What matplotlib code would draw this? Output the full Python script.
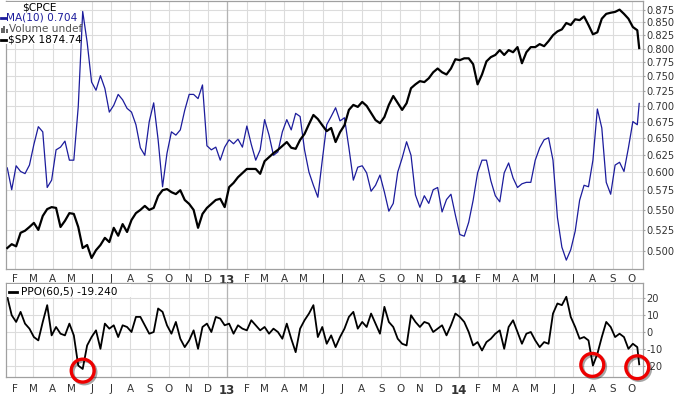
import matplotlib
matplotlib.use("Agg")
import matplotlib.pyplot as plt
import matplotlib.ticker as mticker
import matplotlib.patheffects as pe
from matplotlib.patches import Rectangle
from matplotlib.lines import Line2D
import numpy as np
import pandas as pd

# weekly samples, last point is the final close (2014-10-13)
dates = list(pd.date_range("2012-01-20", "2014-10-10", freq="7D")) + [pd.Timestamp("2014-10-13")]

cpce_ma10 = [0.606, 0.576, 0.609, 0.601, 0.598, 0.610, 0.640, 0.667, 0.659, 0.579,
             0.589, 0.632, 0.636, 0.645, 0.617, 0.617, 0.699, 0.872, 0.812, 0.740,
             0.726, 0.751, 0.729, 0.690, 0.701, 0.719, 0.710, 0.696, 0.690, 0.670,
             0.635, 0.624, 0.675, 0.705, 0.647, 0.580, 0.627, 0.659, 0.654, 0.662,
             0.693, 0.719, 0.719, 0.712, 0.735, 0.638, 0.632, 0.636, 0.617, 0.636,
             0.647, 0.641, 0.648, 0.636, 0.668, 0.640, 0.617, 0.632, 0.678, 0.654,
             0.624, 0.629, 0.659, 0.678, 0.662, 0.688, 0.683, 0.632, 0.600, 0.582,
             0.566, 0.617, 0.670, 0.683, 0.697, 0.676, 0.681, 0.635, 0.589, 0.607,
             0.609, 0.599, 0.574, 0.582, 0.596, 0.573, 0.548, 0.558, 0.600, 0.620,
             0.644, 0.624, 0.569, 0.553, 0.568, 0.558, 0.576, 0.579, 0.547, 0.563,
             0.570, 0.543, 0.519, 0.517, 0.534, 0.562, 0.599, 0.617, 0.617, 0.588,
             0.568, 0.560, 0.599, 0.613, 0.592, 0.579, 0.584, 0.586, 0.586, 0.617,
             0.635, 0.647, 0.650, 0.617, 0.540, 0.504, 0.489, 0.501, 0.523, 0.562,
             0.582, 0.580, 0.617, 0.695, 0.665, 0.586, 0.570, 0.610, 0.614, 0.601,
             0.635, 0.675, 0.670, 0.704]

spx = [1315, 1324, 1319, 1351, 1356, 1365, 1375, 1358, 1392, 1409,
       1414, 1412, 1365, 1380, 1399, 1397, 1365, 1315, 1322, 1292,
       1310, 1322, 1339, 1329, 1363, 1344, 1372, 1353, 1382, 1399,
       1407, 1417, 1407, 1412, 1442, 1457, 1460, 1452, 1447, 1457,
       1432, 1422, 1407, 1363, 1397, 1412, 1422, 1432, 1435, 1414,
       1465, 1476, 1491, 1502, 1513, 1513, 1513, 1500, 1534, 1545,
       1556, 1565, 1576, 1587, 1571, 1568, 1593, 1610, 1638, 1665,
       1653, 1635, 1618, 1627, 1587, 1615, 1635, 1680, 1695, 1689,
       1704, 1692, 1671, 1650, 1641, 1659, 1695, 1722, 1701, 1680,
       1700, 1746, 1758, 1768, 1765, 1777, 1796, 1808, 1796, 1789,
       1808, 1838, 1835, 1841, 1841, 1822, 1758, 1789, 1831, 1845,
       1852, 1868, 1852, 1868, 1861, 1878, 1825, 1861, 1878, 1878,
       1888, 1881, 1898, 1918, 1931, 1938, 1960, 1953, 1973, 1970,
       1983, 1953, 1921, 1928, 1975, 1992, 1996, 1999, 2007, 1992,
       1975, 1946, 1935, 1874.74]

ppo = [21, 10, 6, 12, 5, 2, -3, -5, 6, 16,
       -2, 3, -1, -2, 5, -2, -20, -22, -8, -3,
       1, -10, 5, 2, 4, -3, 4, 3, 0, 9,
       9, 4, -1, 0, 14, 12, 4, -1, 6, -4,
       -9, -5, 1, -10, 3, 5, 0, 9, 8, 4,
       5, -1, 4, 2, 1, 7, 4, 1, 3, -1,
       2, 0, -4, 5, -4, -12, 2, 7, 11, 16,
       -3, 3, -7, -2, -9, -3, 2, 9, 12, 2,
       6, 3, 11, 5, -1, 15, 6, 3, -4, -7,
       -8, 10, 6, 3, 6, 5, 0, 2, 4, -2,
       4, 11, 9, 6, 0, -8, -6, -11, -6, -4,
       -1, 1, -10, 3, 7, 0, -7, -1, 0, -5,
       -9, -6, -7, 11, 17, 16, 21, 9, 3, -4,
       -3, -5, -20, -13, -3, 6, 3, -3, -1, -3,
       -10, -7, -9, -19.24]

# red circles marking the PPO lows
circle_dates = [pd.Timestamp("2012-05-18"), pd.Timestamp("2014-07-31"), pd.Timestamp("2014-10-10")]
circle_vals = [-23, -19.6, -21]

cpce_ticks = [0.500, 0.525, 0.550, 0.575, 0.600, 0.625, 0.650, 0.675, 0.700,
              0.725, 0.750, 0.775, 0.800, 0.825, 0.850, 0.875]
ppo_ticks = [-20, -10, 0, 10, 20]

W, H = 676, 397
BLUE = "#1c1c9c"
GRID = "#dcdcdc"
FRAME = "#a0a0a0"
TXT = "#333333"

fig = plt.figure(figsize=(W / 100, H / 100), dpi=100)
fig.patch.set_facecolor("white")

def px(x0, y0, x1, y1):
    # pixel box (top-left origin) -> figure fraction rect
    return [x0 / W, 1 - y1 / H, (x1 - x0) / W, (y1 - y0) / H]

ax = fig.add_axes(px(6, 1, 643, 269))
axb = fig.add_axes(px(6, 283, 643, 377))

# $SPX overlay on its own hidden log scale (twinx first: it resets the host's y ticks)
ax2 = ax.twinx()
ax2.set_yscale("log")
ax2.set_ylim(1267, 2038)
ax2.axis("off")

xmin, xmax = pd.Timestamp("2012-01-18"), pd.Timestamp("2014-10-19")
months = pd.date_range("2012-02-01", "2014-10-01", freq="MS")
mlabels = [str(d.year)[2:] if d.month == 1 else d.strftime("%b")[0] for d in months]
years = [d for d in months if d.month == 1]

for a in (ax, axb):
    a.set_xlim(xmin, xmax)
    a.set_xticks(list(months))
    a.set_xticklabels(mlabels)
    for lab, d in zip(a.get_xticklabels(), months):
        lab.set_fontweight("bold" if d.month == 1 else "normal")
        lab.set_fontsize(8.5 if d.month == 1 else 7.5)
    a.yaxis.tick_right()
    a.tick_params(axis="y", left=False, labelleft=False, right=True, labelright=True)
    a.set_axisbelow(True)
    a.grid(True, color=GRID, lw=0.8)
    for y in years:
        a.axvline(y, color="#b4b4b4", lw=0.9, zorder=0.6)
    for s in a.spines.values():
        s.set_color(FRAME)
        s.set_linewidth(0.9)
    a.tick_params(axis="y", length=1.5, pad=1.2, color=FRAME, labelsize=7.1, labelcolor=TXT)
    a.tick_params(axis="x", length=0, labelcolor=TXT)

ax.tick_params(axis="x", pad=3.5)
axb.tick_params(axis="x", pad=5)
ax2.set_xlim(xmin, xmax)

# top panel: MA(10) of $CPCE on log scale
ax.set_yscale("log")
ax.set_ylim(0.479, 0.8935)
ax.yaxis.set_major_locator(mticker.FixedLocator(cpce_ticks))
ax.yaxis.set_major_formatter(mticker.FormatStrFormatter("%.3f"))
ax.yaxis.set_minor_locator(mticker.NullLocator())
ax.plot(dates, cpce_ma10, color=BLUE, lw=0.9, zorder=2)

ax2.plot(dates, spx, color="black", lw=1.6)

# bottom panel: PPO(60,5)
axb.set_ylim(-26.8, 29.2)
axb.set_yticks(ppo_ticks)
axb.set_yticklabels([str(t) for t in ppo_ticks])
axb.plot(dates, ppo, color="black", lw=1.3, zorder=2)
axb.plot(circle_dates, circle_vals, "o", ms=16.5, mfc="none", mec="#ee0000", mew=2.4,
         clip_on=False, zorder=6,
         path_effects=[pe.SimpleLineShadow(offset=(1.2, -1.2), alpha=0.35), pe.Normal()])

# legends
def ftxt(x, y, s, **kw):
    fig.text(x / W, 1 - y / H, s, va="center", ha="left", fontsize=7.6, **kw)

fig.patches.append(Rectangle((0, 1 - 44 / H), 80 / W, 42 / H, transform=fig.transFigure,
                             facecolor="white", edgecolor="none", zorder=1))
ftxt(22, 8, "$CPCE", color="black")
fig.lines.append(Line2D([0.5 / W, 5.5 / W], [1 - 17.5 / H] * 2, transform=fig.transFigure,
                       color=BLUE, lw=2, zorder=2))
ftxt(6, 17.5, "MA(10) 0.704", color=BLUE)
for bx, bh in zip([0.5, 3.2, 5.9], [5, 7, 4]):
    fig.patches.append(Rectangle((bx / W, 1 - 33 / H), 2 / W, bh / H, transform=fig.transFigure,
                                 facecolor="#666666", edgecolor="none", zorder=2))
ftxt(9, 28.5, "Volume undef", color="#555555")
fig.lines.append(Line2D([0.5 / W, 5.5 / W], [1 - 39.5 / H] * 2, transform=fig.transFigure,
                       color="black", lw=2, zorder=2))
ftxt(7.5, 39.5, "$SPX 1874.74", color="black")

fig.patches.append(Rectangle((6.5 / W, 1 - 297 / H), 124 / W, 13 / H, transform=fig.transFigure,
                             facecolor="white", edgecolor="none", zorder=1))
fig.lines.append(Line2D([9 / W, 17 / W], [1 - 291.5 / H] * 2, transform=fig.transFigure,
                       color="black", lw=2, zorder=2))
ftxt(21, 291.5, "PPO(60,5) -19.240", color="black")

fig.savefig("out.png", dpi=100, facecolor="white")
